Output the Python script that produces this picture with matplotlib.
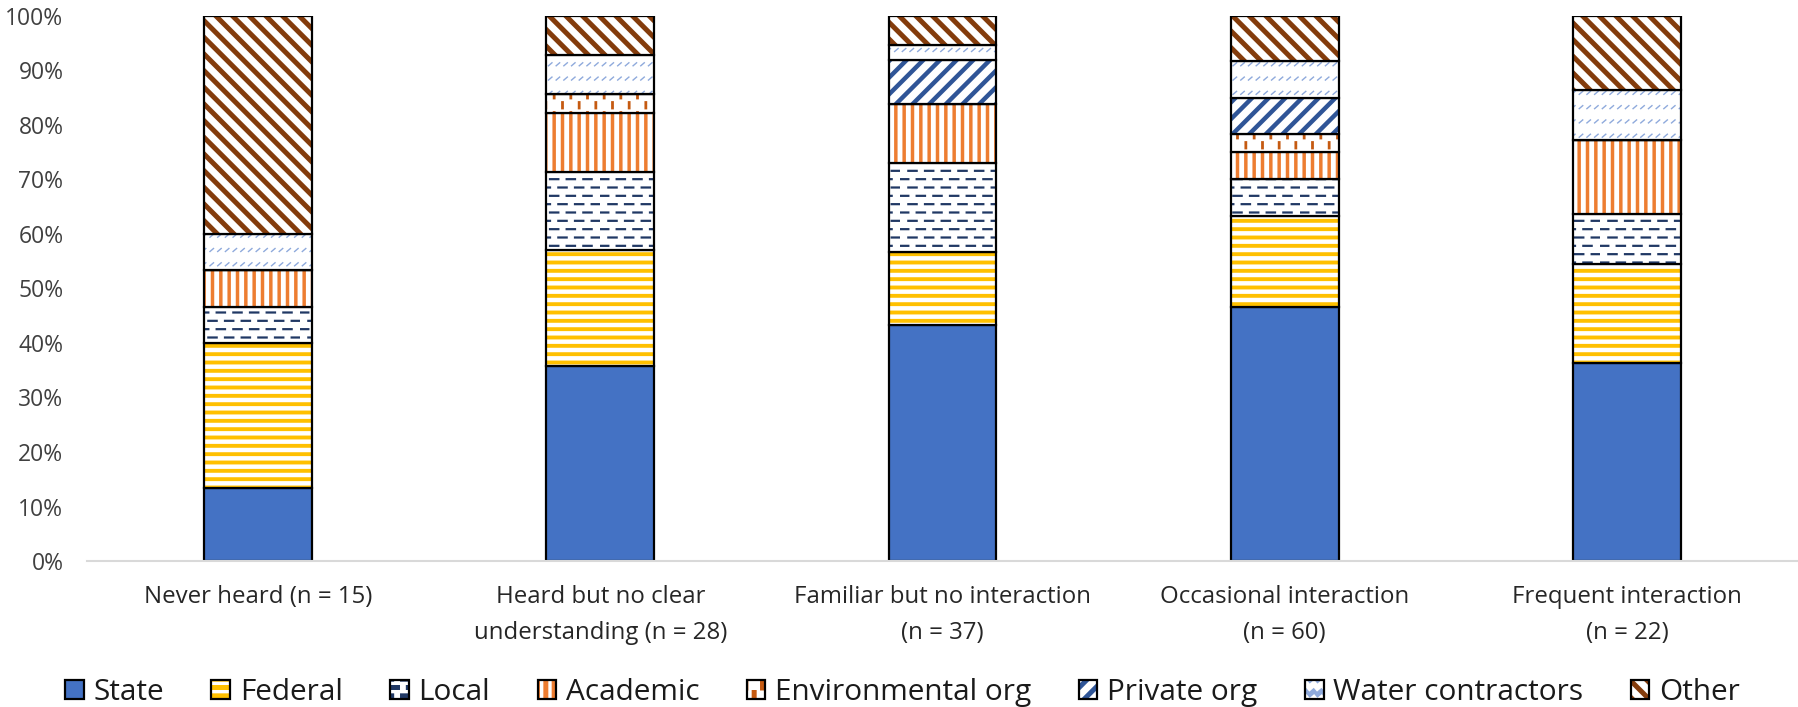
import numpy as np
import matplotlib
matplotlib.use("Agg")
import matplotlib.pyplot as plt
from matplotlib import hatch as mhatch
from matplotlib.path import Path
from matplotlib.legend_handler import HandlerTuple
import warnings

warnings.filterwarnings("ignore")

# Data: number of respondents per organisation type in each familiarity group
categories = ["Never heard (n = 15)",
              "Heard but no clear\nunderstanding (n = 28)",
              "Familiar but no interaction\n(n = 37)",
              "Occasional interaction\n(n = 60)",
              "Frequent interaction\n(n = 22)"]
n_resp = [15, 28, 37, 60, 22]

series_names = ["State", "Federal", "Local", "Academic", "Environmental org",
                "Private org", "Water contractors", "Other"]
state = [2, 10, 16, 28, 8]
federal = [4, 6, 5, 10, 4]
local = [1, 4, 6, 4, 2]
academic = [1, 3, 4, 3, 3]
environmental = [0, 1, 0, 2, 0]
private = [0, 0, 3, 4, 0]
water = [1, 2, 1, 4, 2]
other = [6, 2, 2, 5, 3]


# Extra fill patterns (Excel style dashes / ticks / small slashes)
class DashRows(mhatch.HatchPatternBase):
    # '_' : rows of short dashes, every other row shifted
    def __init__(self, hatch, density):
        self.rows = hatch.count('_') * density * 2
        self.cols = 6
        self.num_vertices = self.rows * self.cols * 2

    def set_vertices_and_codes(self, vertices, codes):
        k = 0
        for r in range(self.rows):
            y = (r + 0.5) / self.rows
            off = 0.5 / self.cols if r % 2 else 0.0
            for c in range(self.cols):
                x0 = c / self.cols + off
                vertices[k] = (x0, y)
                vertices[k + 1] = (x0 + 0.5 / self.cols, y)
                codes[k] = Path.MOVETO
                codes[k + 1] = Path.LINETO
                k += 2


class TickRows(mhatch.HatchPatternBase):
    # '!' : rows of short vertical ticks, every other row shifted
    def __init__(self, hatch, density):
        self.rows = hatch.count('!') * 10
        self.cols = 6
        self.num_vertices = self.rows * self.cols * 2

    def set_vertices_and_codes(self, vertices, codes):
        k = 0
        h = 0.55 / self.rows
        for r in range(self.rows):
            y = (r + 0.2) / self.rows
            off = 0.5 / self.cols if r % 2 else 0.0
            for c in range(self.cols):
                x0 = (c + 0.25) / self.cols + off
                vertices[k] = (x0, y)
                vertices[k + 1] = (x0, y + h)
                codes[k] = Path.MOVETO
                codes[k + 1] = Path.LINETO
                k += 2


class SlashRows(mhatch.HatchPatternBase):
    # '~' : rows of tiny slashes
    def __init__(self, hatch, density):
        self.rows = hatch.count('~') * 7
        self.cols = 13
        self.num_vertices = self.rows * self.cols * 2

    def set_vertices_and_codes(self, vertices, codes):
        k = 0
        for r in range(self.rows):
            y = (r + 0.5) / self.rows
            for c in range(self.cols):
                x0 = (c + 0.3) / self.cols
                vertices[k] = (x0, y - 0.015)
                vertices[k + 1] = (x0 + 0.035, y + 0.015)
                codes[k] = Path.MOVETO
                codes[k + 1] = Path.LINETO
                k += 2


mhatch._hatch_types.extend([DashRows, TickRows, SlashRows])

plt.rcParams['font.family'] = ['Open Sans', 'DejaVu Sans']

counts = np.array([state, federal, local, academic, environmental,
                   private, water, other], dtype=float)
pct = counts / np.array(n_resp, dtype=float) * 100

# (face colour, hatch, hatch colour, hatch linewidth)
styles = [
    ("#4472C4", None, None, 0),
    ("white", "--", "#FFC000", 2.8),
    ("white", "_", "#203864", 1.6),
    ("white", "||", "#ED7D31", 2.5),
    ("white", "!", "#C55A11", 2.0),
    ("white", "//", "#2F5597", 3.2),
    ("white", "~", "#8FAADC", 1.0),
    ("white", "\\\\", "#843C0C", 3.6),
]

fig = plt.figure(figsize=(17.98, 7.07), dpi=100)
ax = fig.add_axes([0.0484, 0.2065, 0.9516, 0.7709])

x = np.arange(len(categories))
width = 0.315
bottom = np.zeros(len(categories))
handles = []
for name, vals, (fc, hatch, hc, hlw) in zip(series_names, pct, styles):
    if hatch is None:
        fill = ax.bar(x, vals, width, bottom=bottom, color=fc, linewidth=0)
    else:
        plt.rcParams['hatch.linewidth'] = hlw
        fill = ax.bar(x, vals, width, bottom=bottom, facecolor=fc,
                      edgecolor=hc, hatch=hatch, linewidth=0)
        for p in fill:
            if hasattr(p, "set_hatch_linewidth"):
                p.set_hatch_linewidth(hlw)
    outline = ax.bar(x, vals, width, bottom=bottom, fill=False,
                     edgecolor="black", linewidth=1.6)
    handles.append((fill[0], outline[0]))
    bottom += vals

ax.set_xlim(-0.5, 4.5)
ax.set_ylim(0, 100)
ax.set_yticks(np.arange(0, 101, 10))
ax.set_yticklabels([f"{v}%" for v in range(0, 101, 10)], fontsize=16.5,
                   color="#404040")
ax.set_xticks(x)
ax.set_xticklabels(categories, fontsize=17.3, color="#262626",
                   linespacing=1.7)
ax.tick_params(axis="y", length=0, pad=17)
ax.tick_params(axis="x", length=0, pad=17)
for s in ["top", "right", "left"]:
    ax.spines[s].set_visible(False)
ax.spines["bottom"].set_color("#D9D9D9")
ax.spines["bottom"].set_linewidth(1.5)

fig.legend(handles, series_names, loc="center", ncol=8,
           bbox_to_anchor=(0.502, 0.021), frameon=False, fontsize=21.4,
           handler_map={tuple: HandlerTuple(ndivide=1)},
           handlelength=0.62, handleheight=0.62, handletextpad=0.33,
           columnspacing=1.6, labelcolor="#1a1a1a", borderpad=0.2)

fig.savefig("out.png", dpi=100)
